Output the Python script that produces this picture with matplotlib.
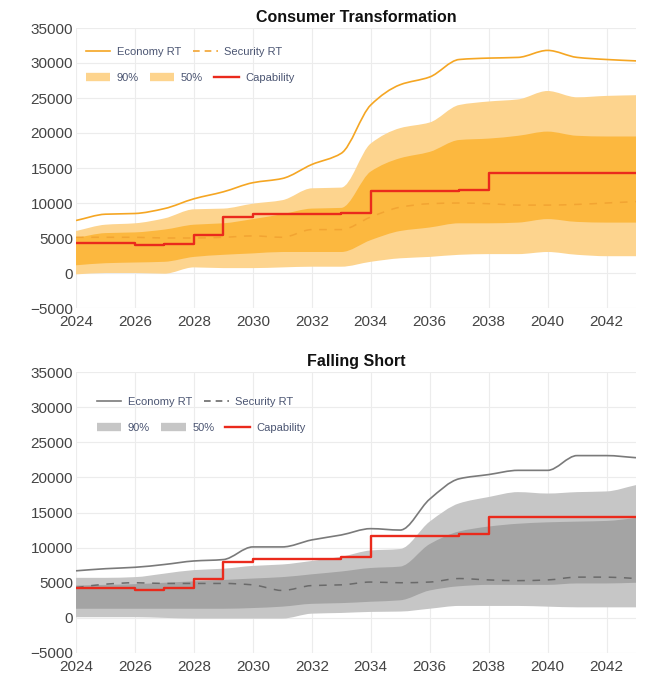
import matplotlib
matplotlib.use("Agg")
import matplotlib.pyplot as plt
import numpy as np
from matplotlib.path import Path
from matplotlib.patches import PathPatch
from matplotlib.lines import Line2D

plt.rcParams['font.family'] = ['Liberation Sans', 'DejaVu Sans']

years = list(range(2024, 2044))

capability = [4300, 4300, 4000, 4200, 5500, 8000, 8400, 8400, 8400, 8600,
              11700, 11700, 11700, 11900, 14300, 14300, 14300, 14300, 14300, 14300]

# Consumer Transformation
ct_economy = [7500, 8400, 8500, 9200, 10600, 11600, 12900, 13500, 15500, 17100,
              24000, 26900, 28000, 30500, 30700, 30800, 31800, 30800, 30500, 30300]
ct_security = [5100, 5100, 5100, 5000, 5000, 5100, 5300, 5100, 6200, 6200,
               8000, 9400, 9900, 10000, 9900, 9700, 9700, 9800, 10000, 10200]
ct_p95 = [6000, 6900, 7100, 7800, 9100, 9200, 9900, 10400, 12100, 12200,
          18500, 20700, 21500, 24000, 24500, 24800, 26000, 25100, 25300, 25400]
ct_p75 = [5000, 5700, 5800, 6200, 6900, 7100, 7700, 8400, 9200, 9300,
          14500, 16400, 17300, 19000, 19200, 19600, 20200, 19600, 19500, 19500]
ct_p25 = [1100, 1400, 1500, 1600, 2300, 2600, 2800, 3000, 3000, 3000,
          4700, 6000, 6500, 7100, 7100, 7200, 7700, 7300, 7200, 7200]
ct_p5 = [-200, 0, 0, -100, 800, 700, 700, 800, 900, 900,
         1600, 2100, 2300, 2600, 2700, 2700, 3000, 2600, 2400, 2400]

# Falling Short
fs_economy = [6700, 7000, 7200, 7600, 8100, 8300, 10100, 10100, 11100, 11800,
              12700, 12500, 16900, 19800, 20400, 21000, 21000, 23100, 23100, 22800]
fs_security = [4300, 4800, 5000, 4900, 4900, 4900, 4700, 3900, 4600, 4700,
               5100, 5000, 5100, 5600, 5400, 5300, 5400, 5800, 5800, 5600]
fs_p95 = [5700, 5700, 5800, 6300, 6800, 7000, 7400, 7600, 8100, 8700,
          9600, 9800, 13700, 16300, 17200, 17900, 17700, 17900, 18000, 18900]
fs_p75 = [4600, 4700, 4800, 5000, 5200, 5400, 5600, 5800, 6200, 6600,
          7100, 7300, 10500, 12300, 13000, 13400, 13600, 13700, 13800, 14200]
fs_p25 = [1300, 1300, 1300, 1300, 1300, 1300, 1400, 1600, 2000, 2100,
          2300, 2500, 3900, 4500, 4700, 4700, 4700, 4900, 4900, 5000]
fs_p5 = [100, 100, 100, 0, -100, -100, -100, -100, 600, 700,
         850, 900, 1300, 1700, 1700, 1700, 1600, 1500, 1500, 1500]

xticks = list(range(2024, 2043, 2))
yticks = list(range(-5000, 35001, 5000))


def tangents(x, y):
    x = np.asarray(x, float)
    y = np.asarray(y, float)
    h = np.diff(x)
    d = np.diff(y) / h
    m = np.zeros_like(y)
    m[0] = d[0]
    m[-1] = d[-1]
    for k in range(1, len(y) - 1):
        if d[k - 1] * d[k] <= 0:
            m[k] = 0.0
        else:
            w1 = 2 * h[k] + h[k - 1]
            w2 = h[k] + 2 * h[k - 1]
            m[k] = (w1 + w2) / (w1 / d[k - 1] + w2 / d[k])
    return m


def smooth_segments(x, y):
    x = np.asarray(x, float)
    y = np.asarray(y, float)
    m = tangents(x, y)
    verts = []
    for i in range(len(x) - 1):
        h = x[i + 1] - x[i]
        verts.append((x[i] + h / 3, y[i] + m[i] * h / 3))
        verts.append((x[i + 1] - h / 3, y[i + 1] - m[i + 1] * h / 3))
        verts.append((x[i + 1], y[i + 1]))
    return verts


def smooth_line(ax, x, y, **kw):
    verts = [(x[0], y[0])] + smooth_segments(x, y)
    codes = [Path.MOVETO] + [Path.CURVE4] * (len(verts) - 1)
    ax.add_patch(PathPatch(Path(verts, codes), fill=False, **kw))


def smooth_band(ax, x, lo, hi, color, z):
    up = [(x[0], hi[0])] + smooth_segments(x, hi)
    xr = list(x)[::-1]
    lr = list(lo)[::-1]
    down = [(xr[0], lr[0])] + smooth_segments(xr, lr)
    verts = up + down + [(x[0], hi[0])]
    codes = ([Path.MOVETO] + [Path.CURVE4] * (len(up) - 1) +
             [Path.LINETO] + [Path.CURVE4] * (len(down) - 1) + [Path.CLOSEPOLY])
    ax.add_patch(PathPatch(Path(verts, codes), facecolor=color, edgecolor='none',
                           lw=0, zorder=z))


legend_color = '#4b5572'
cap_color = '#EA2A1C'


def draw_panel(ax, title, econ, sec, p5, p25, p75, p95, c_line, c_sec, c90, c50,
               leg_x, leg_y1, leg_y2):
    smooth_band(ax, years, p5, p95, c90, 1)
    smooth_band(ax, years, p25, p75, c50, 2)
    smooth_line(ax, years, sec, edgecolor=c_sec, lw=1.1, linestyle=(0, (5, 5)), zorder=3)
    smooth_line(ax, years, econ, edgecolor=c_line, lw=1.2, zorder=4)
    ax.step(years, capability, where='post', color=cap_color, lw=1.7, zorder=5)

    ax.set_xlim(2024, 2043)
    ax.set_ylim(-5000, 35000)
    ax.set_xticks(xticks)
    ax.set_yticks(yticks)
    ax.set_xticklabels([str(t) for t in xticks])
    ax.set_yticklabels([f"{t}".replace('-', '\u2212') for t in yticks])
    ax.grid(True, color='#ececec', lw=0.8, zorder=0)
    ax.set_axisbelow(True)
    for s in ax.spines.values():
        s.set_visible(False)
    ax.tick_params(length=0, labelsize=11, labelcolor='#444444')
    ax.tick_params(axis='x', pad=5)
    ax.tick_params(axis='y', pad=2)
    ax.set_title(title, fontsize=11.5, fontweight='bold', color='#111111', pad=4)

    h1 = [Line2D([], [], color=c_line, lw=1.2),
          Line2D([], [], color=c_sec, lw=1.2, linestyle=(0, (4, 3)))]
    leg1 = ax.legend(h1, ['Economy RT', 'Security RT'], loc='center left',
                     bbox_to_anchor=(leg_x, leg_y1), ncol=2, frameon=False,
                     fontsize=8, labelcolor=legend_color, handlelength=2.2,
                     handletextpad=0.6, columnspacing=1.1, borderpad=0,
                     borderaxespad=0)
    ax.add_artist(leg1)
    h2 = [Line2D([], [], color=c90, lw=6, solid_capstyle='butt'),
          Line2D([], [], color=c90, lw=6, solid_capstyle='butt'),
          Line2D([], [], color=cap_color, lw=1.7)]
    ax.legend(h2, ['90%', '50%', 'Capability'], loc='center left',
              bbox_to_anchor=(leg_x, leg_y2), ncol=3, frameon=False,
              fontsize=8, labelcolor=legend_color, handlelength=2.2,
              handletextpad=0.6, columnspacing=1.0, borderpad=0,
              borderaxespad=0)


fig = plt.figure(figsize=(6.46, 6.77), dpi=100)
ax1 = fig.add_axes([76 / 646, 1 - 308 / 677, 560 / 646, 280 / 677])
ax2 = fig.add_axes([76 / 646, 1 - 653 / 677, 560 / 646, 281 / 677])

draw_panel(ax1, 'Consumer Transformation', ct_economy, ct_security,
           ct_p5, ct_p25, ct_p75, ct_p95,
           '#F5A623', '#F2A432', '#FDD48E', '#FCB83F',
           0.017, 0.914, 0.821)
draw_panel(ax2, 'Falling Short', fs_economy, fs_security,
           fs_p5, fs_p25, fs_p75, fs_p95,
           '#7a7a7a', '#6a6a6a', '#C6C6C6', '#A4A4A4',
           0.037, 0.893, 0.800)

fig.savefig('out.png', dpi=100)
